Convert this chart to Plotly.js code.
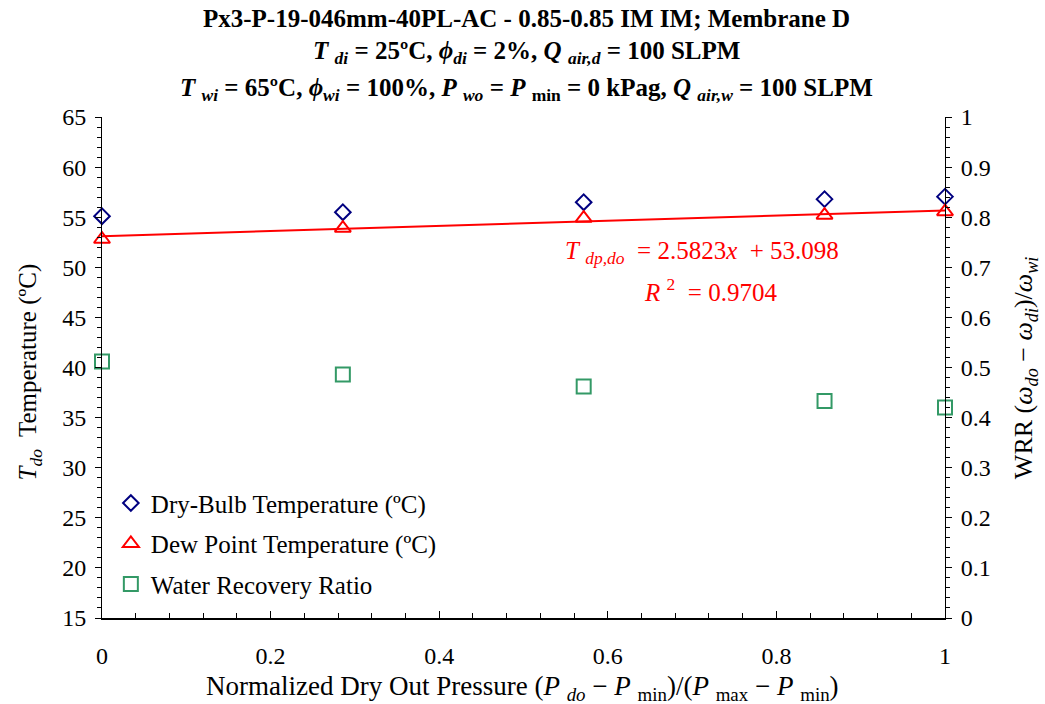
<!DOCTYPE html>
<html>
<head>
<meta charset="utf-8">
<script src="https://cdn.plot.ly/plotly-3.0.1.min.js"></script>
<style>html,body{margin:0;padding:0;background:#fff;}#chart{width:1045px;height:704px;}</style>
</head>
<body>
<div id="chart"></div>
<script>
// Data
const pressureNorm = [0, 0.2857, 0.5714, 0.8571, 1];
const dryBulbTemp = [55.1, 55.5, 56.5, 56.8, 57.05];
const dewPointTemp = [52.8, 53.9, 54.9, 55.2, 55.55];
const waterRecovery = [0.512, 0.486, 0.462, 0.433, 0.420];
const fitSlope = [2.5823];
const fitIntercept = [53.098];
const fitR2 = [0.9704];
const fitRangeX = [0, 1];
const leftTicks = [15, 20, 25, 30, 35, 40, 45, 50, 55, 60, 65];
const rightTicks = [0, 0.1, 0.2, 0.3, 0.4, 0.5, 0.6, 0.7, 0.8, 0.9, 1];
const xTicks = [0, 0.2, 0.4, 0.6, 0.8, 1];

const FONT = "Liberation Serif";
const fitY = fitRangeX.map(x => fitIntercept[0] + fitSlope[0] * x);

const traces = [
  {x: pressureNorm, y: dryBulbTemp, type: 'scatter', mode: 'markers', name: 'Dry-Bulb Temperature (ºC)', cliponaxis: false,
   legendgroup: 'a', marker: {symbol: 'diamond-open', size: 12, color: '#000080', line: {width: 2, color: '#000080'}}},
  {x: pressureNorm, y: dewPointTemp, type: 'scatter', mode: 'markers', name: 'Dew Point Temperature (ºC)', cliponaxis: false,
   legendgroup: 'b', marker: {symbol: 'triangle-up-open', size: 14, color: '#FF0000', line: {width: 2, color: '#FF0000'}}},
  {x: pressureNorm, y: waterRecovery, yaxis: 'y2', type: 'scatter', mode: 'markers', name: 'Water Recovery Ratio', cliponaxis: false,
   legendgroup: 'c', marker: {symbol: 'square-open', size: 14, color: '#339966', line: {width: 2, color: '#339966'}}},
  {x: fitRangeX, y: fitY, type: 'scatter', mode: 'lines', showlegend: false, hoverinfo: 'skip',
   line: {color: '#FF0000', width: 2}}
];

const layout = {
  width: 1045, height: 704,
  margin: {l: 102, r: 100, t: 117, b: 86},
  paper_bgcolor: '#fff', plot_bgcolor: '#fff',
  font: {family: FONT, size: 24, color: '#000'},
  showlegend: true,
  legend: {x: 0.0105, y: 0.275, xanchor: 'left', yanchor: 'top', bgcolor: 'rgba(0,0,0,0)',
           font: {family: FONT, size: 25, color: '#000'}, traceorder: 'grouped', tracegroupgap: 5},
  xaxis: {range: [0, 1], tickvals: xTicks, ticktext: xTicks.map(String), ticks: 'inside', ticklen: 7, tickcolor: '#000',
          showline: true, linecolor: '#000', linewidth: 2, showgrid: false, zeroline: false, mirror: false,
          ticklabelstandoff: 15, tickfont: {family: FONT, size: 24},
          minor: {dtick: 0.04, ticks: 'inside', ticklen: 5, tickcolor: '#000', showgrid: false}},
  yaxis: {range: [15, 65], tickvals: leftTicks, ticktext: leftTicks.map(String), ticks: 'outside', ticklen: 6, tickcolor: '#000',
          showline: true, linecolor: '#000', linewidth: 1, showgrid: false, zeroline: false,
          ticklabelstandoff: 4, tickfont: {family: FONT, size: 24},
          minor: {dtick: 1, ticks: 'outside', ticklen: 4, tickcolor: '#000', showgrid: false}},
  yaxis2: {range: [0, 1], overlaying: 'y', side: 'right', tickvals: rightTicks, ticktext: rightTicks.map(String),
           ticks: 'outside', ticklen: 6, tickcolor: '#000', showline: true, linecolor: '#000', linewidth: 1,
           showgrid: false, zeroline: false, ticklabelstandoff: 4, tickfont: {family: FONT, size: 24},
           minor: {dtick: 0.02, ticks: 'outside', ticklen: 4, tickcolor: '#000', showgrid: false}},
  annotations: [
    {xref: 'paper', yref: 'paper', x: 0.503, y: 1.1976, xanchor: 'center', yanchor: 'middle', showarrow: false,
     text: '<b>Px3-P-19-046mm-40PL-AC - 0.85-0.85 IM IM; Membrane D</b>', font: {family: FONT, size: 25}},
    {xref: 'paper', yref: 'paper', x: 0.503, y: 1.1297, xanchor: 'center', yanchor: 'middle', showarrow: false,
     text: '<b><i>T</i> <sub><i>di</i></sub> = 25ºC, <i>ϕ</i><sub><i>di</i></sub> = 2%, <i>Q</i> <sub><i>air,d</i></sub> = 100 SLPM</b>',
     font: {family: FONT, size: 25}},
    {xref: 'paper', yref: 'paper', x: 0.503, y: 1.0539, xanchor: 'center', yanchor: 'middle', showarrow: false,
     text: '<b><i>T</i> <sub><i>wi</i></sub> = 65ºC, <i>ϕ</i><sub><i>wi</i></sub> = 100%, <i>P</i> <sub><i>wo</i></sub> = <i>P</i> <sub>min</sub> = 0 kPag, <i>Q</i> <sub><i>air,w</i></sub> = 100 SLPM</b>',
     font: {family: FONT, size: 25}},
    {xref: 'paper', yref: 'paper', x: 0.4994, y: -0.1397, xanchor: 'center', yanchor: 'middle', showarrow: false,
     text: 'Normalized Dry Out Pressure (<i>P</i> <sub><i>do</i></sub> − <i>P</i> <sub>min</sub>)/(<i>P</i> <sub>max</sub> − <i>P</i> <sub>min</sub>)',
     font: {family: FONT, size: 27}},
    {xref: 'paper', yref: 'paper', x: -0.0854, y: 0.49, xanchor: 'center', yanchor: 'middle', showarrow: false, textangle: -90,
     text: '<i>T</i><sub><i>do</i></sub>  Temperature (ºC)', font: {family: FONT, size: 25}},
    {xref: 'paper', yref: 'paper', x: 1.0945, y: 0.5, xanchor: 'center', yanchor: 'middle', showarrow: false, textangle: -90,
     text: 'WRR (<i>ω</i><sub><i>do</i></sub> − <i>ω</i><sub><i>di</i></sub>)/<i>ω</i><sub><i>wi</i></sub>', font: {family: FONT, size: 26}},
    {xref: 'x', yref: 'y', x: 0.712, y: 51.43, xanchor: 'center', yanchor: 'middle', showarrow: false,
     text: '<i>T</i> <sub><i>dp,do</i></sub>  = ' + fitSlope[0].toFixed(4) + '<i>x</i>  + ' + fitIntercept[0].toFixed(3),
     font: {family: FONT, size: 25, color: '#FF0000'}},
    {xref: 'x', yref: 'y', x: 0.7224, y: 47.73, xanchor: 'center', yanchor: 'middle', showarrow: false,
     text: '<i>R</i> <sup>2</sup>  = ' + fitR2[0].toFixed(4),
     font: {family: FONT, size: 25, color: '#FF0000'}}
  ]
};

Plotly.newPlot('chart', traces, layout, {displayModeBar: false, staticPlot: true});
</script>
</body>
</html>
